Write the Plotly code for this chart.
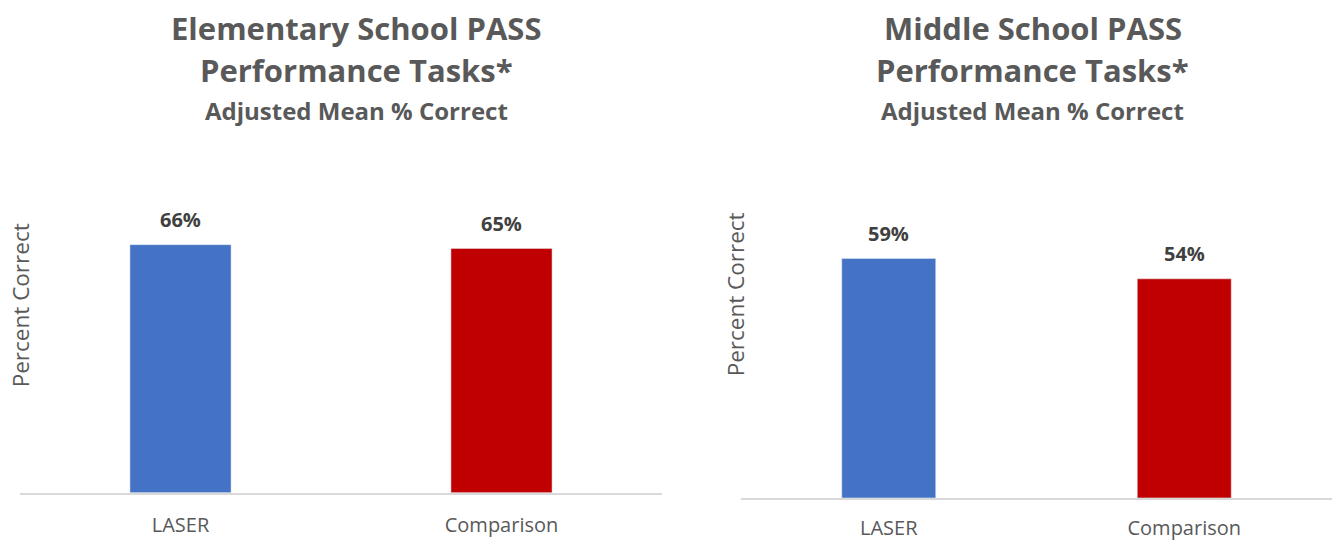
import plotly.graph_objects as go

categories = ["LASER", "Comparison"]
elem_values = [66, 65]
middle_values = [59, 54]
bar_colors = ["#4472C4", "#C00000"]
elem_title = ["Elementary School PASS", "Performance Tasks*"]
middle_title = ["Middle School PASS", "Performance Tasks*"]
subtitle = "Adjusted Mean % Correct"
y_title = "Percent Correct"

W, H = 1332, 541
FONT = "Open Sans"
GREY = "#595959"

fig = go.Figure()
fig.add_trace(go.Bar(x=categories, y=elem_values, marker_color=bar_colors,
                     width=0.315, xaxis="x", yaxis="y", hoverinfo="skip"))
fig.add_trace(go.Bar(x=categories, y=middle_values, marker_color=bar_colors,
                     width=0.318, xaxis="x2", yaxis="y2", hoverinfo="skip"))

def xa(domain, anchor, standoff):
    return dict(domain=domain, anchor=anchor, showgrid=False, zeroline=False,
                showline=True, linecolor="#D9D9D9", linewidth=2, ticks="",
                tickfont=dict(family=FONT, size=20, color=GREY),
                ticklabelstandoff=standoff, fixedrange=True)

def ya(domain, anchor):
    return dict(domain=domain, anchor=anchor, range=[0, 70], showgrid=False,
                zeroline=False, showline=False, showticklabels=False,
                ticks="", fixedrange=True)

annotations = []
for vals, xr, yr in [(elem_values, "x", "y"), (middle_values, "x2", "y2")]:
    for c, v in zip(categories, vals):
        annotations.append(dict(x=c, y=v, xref=xr, yref=yr, text=f"{v}%",
                                showarrow=False, yanchor="middle", yshift=25,
                                font=dict(family=FONT, size=20, color="#404040",
                                          weight="bold")))

for cx, lines in [(356.5, elem_title), (1032.5, middle_title)]:
    for cy, line in zip([28, 70], lines):
        annotations.append(dict(x=cx / W, y=1 - cy / H, xref="paper", yref="paper",
                                xanchor="center", yanchor="middle", text=line,
                                showarrow=False,
                                font=dict(family=FONT, size=31, color=GREY, weight="bold")))
    annotations.append(dict(x=cx / W, y=1 - 111 / H, xref="paper", yref="paper",
                            xanchor="center", yanchor="middle", text=subtitle,
                            showarrow=False,
                            font=dict(family=FONT, size=24, color=GREY, weight="bold")))

for cx, cy in [(20, 307), (735, 296)]:
    annotations.append(dict(x=cx / W, y=1 - cy / H, xref="paper", yref="paper",
                            xanchor="center", yanchor="middle", text=y_title,
                            textangle=-90, showarrow=False,
                            font=dict(family=FONT, size=22.5, color=GREY)))

fig.update_layout(
    width=W, height=H, margin=dict(l=0, r=0, t=0, b=0),
    paper_bgcolor="white", plot_bgcolor="white", showlegend=False,
    xaxis=xa([20 / W, 662 / W], "y", 13),
    yaxis=ya([(H - 495.5) / H, (H - 230.9) / H], "x"),
    xaxis2=xa([741 / W, 1.0], "y2", 11),
    yaxis2=ya([(H - 500.7) / H, (H - 215.1) / H], "x2"),
    annotations=annotations,
)

fig.write_html("out.html", config={"displayModeBar": False})
